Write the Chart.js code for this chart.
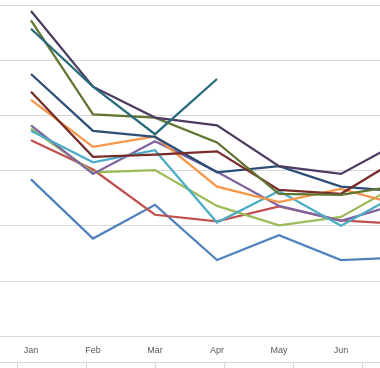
<!DOCTYPE html>
<html>
<head>
<meta charset="utf-8">
<script src="https://cdn.jsdelivr.net/npm/chart.js@4.4.0/dist/chart.umd.min.js"></script>
<style>
  html, body { margin: 0; padding: 0; background: #fff; overflow: hidden; }
  #wrap { position: relative; width: 434px; height: 368px; }
</style>
</head>
<body>
<div id="wrap"><canvas id="chart1"></canvas></div>
<script>
// categories
var months = ["Jan", "Feb", "Mar", "Apr", "May", "Jun", "Jul"];

// series values (arbitrary units 0..60)
var blue       = [28.4, 17.7, 23.8, 13.8, 18.3, 13.8, 14.3];
var red        = [35.5, 30.2, 22.0, 20.8, 23.5, 21.0, 20.3];
var green      = [37.6, 29.7, 30.1, 23.6, 20.1, 21.6, 27.9];
var purple     = [38.2, 29.4, 35.3, 29.8, 23.6, 20.9, 24.2];
var aqua       = [37.2, 31.5, 33.7, 20.6, 26.3, 20.0, 26.2];
var orange     = [42.8, 34.3, 36.2, 27.1, 24.3, 26.7, 23.6];
var darkBlue   = [47.5, 37.2, 36.1, 29.7, 30.8, 27.1, 26.2];
var darkRed    = [44.3, 32.5, 32.9, 33.5, 26.5, 25.8, 32.6];
var darkGreen  = [57.2, 40.2, 39.6, 35.1, 25.8, 25.6, 27.4];
var darkPurple = [58.9, 45.2, 39.6, 38.2, 30.8, 29.4, 35.5];
var darkTeal   = [55.7, 45.2, 36.6, 46.6, null, null, null];

// y ticks
var yMin = 0, yMax = 60, yStep = 10;

var series = [blue, red, green, purple, aqua, orange, darkBlue, darkRed, darkGreen, darkPurple, darkTeal];
var colors = ["#4F81BD", "#C0504D", "#9BBB59", "#8064A2", "#4BACC6", "#F79646",
              "#2C4D75", "#772C2A", "#5F7530", "#4D3B62", "#276A7C"];

var datasets = series.map(function (s, i) {
  return {
    data: s,
    borderColor: colors[i],
    backgroundColor: colors[i],
    borderWidth: 2.25,
    pointRadius: 0,
    tension: 0,
    spanGaps: false,
    order: series.length - i // later series on top, like Excel
  };
});

// the strip under the labels (part of the sheet below the chart)
var bottomStrip = {
  id: "bottomStrip",
  afterDraw: function (chart) {
    var ctx = chart.ctx;
    ctx.save();
    ctx.strokeStyle = "#d9d9d9";
    ctx.lineWidth = 1;
    ctx.beginPath();
    ctx.moveTo(0, 362.5);
    ctx.lineTo(chart.width, 362.5);
    for (var x = 17; x < chart.width; x += 69) {
      ctx.moveTo(x + 0.5, 362.5);
      ctx.lineTo(x + 0.5, 368);
    }
    ctx.stroke();
    ctx.restore();
  }
};

var chart1 = new Chart(document.getElementById("chart1"), {
  type: "line",
  data: { labels: months, datasets: datasets },
  plugins: [bottomStrip],
  options: {
    responsive: true,
    maintainAspectRatio: false,
    animation: false,
    layout: { padding: { top: 5, bottom: 11, left: 0, right: 0 } },
    plugins: { legend: { display: false }, tooltip: { enabled: false } },
    scales: {
      x: {
        offset: true,
        grid: { display: false },
        border: { display: true, color: "#d9d9d9", width: 1 },
        ticks: {
          padding: 1,
          color: "#595959",
          font: { family: "Liberation Sans", size: 9 },
          maxRotation: 0
        }
      },
      y: {
        min: yMin,
        max: yMax,
        grid: { color: "#d9d9d9", lineWidth: 1, drawTicks: false },
        border: { display: false },
        ticks: { display: false, stepSize: yStep }
      }
    }
  }
});
</script>
</body>
</html>
